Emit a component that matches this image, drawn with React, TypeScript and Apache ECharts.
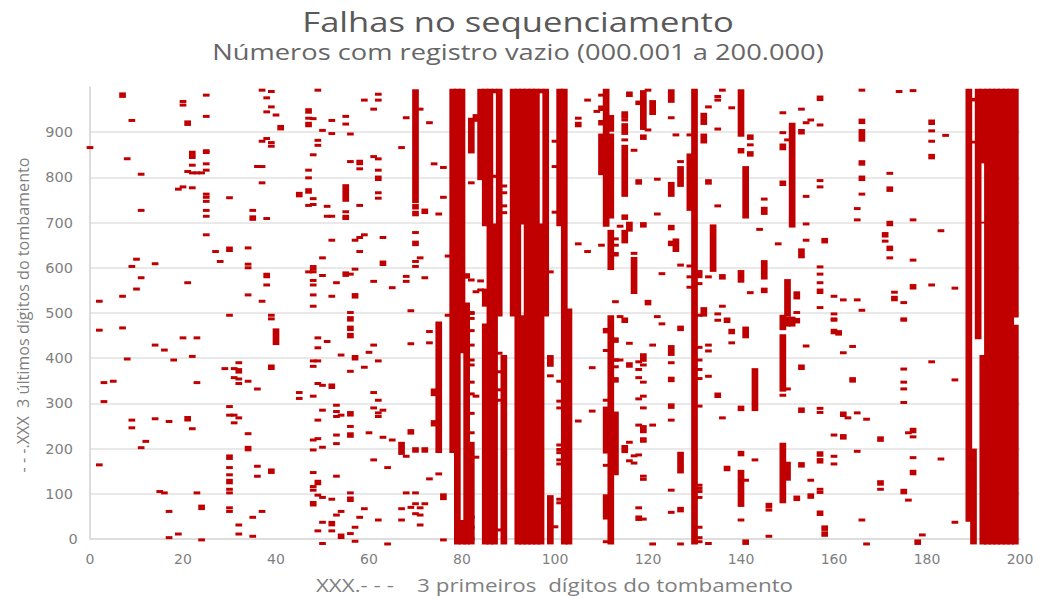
import React, { useEffect, useRef } from "react";
import * as echarts from "echarts";

const titleText = "Falhas no sequenciamento";
const subtitleText = "Números com registro vazio (000.001 a 200.000)";
const xAxisName = "XXX.- - -    3 primeiros  dígitos do tombamento";
const yAxisName = "- - -.XXX  3 últimos dígitos do tombamento";

// [first three digits, [last three digits of isolated empty numbers]]
const dashes: [number, number[]][] = [
  [0,[866]],[2,[526,462,164]],[3,[346,304]],[5,[349]],[7,[537,467]],[8,[841,398]],[9,[926,603,263,246]],
  [10,[619,553]],[11,[807,727,578,202]],[12,[216]],[14,[609,429,266]],[15,[105]],[16,[418,102]],[17,[260,61,3]],
  [18,[396]],[19,[774,11]],[20,[968,960,779,445]],[21,[567,813]],[22,[777,844,827,404,244,810]],[23,[810,445,346,102]],
  [24,[810,-2]],[25,[982,935,859,855,830,816,763,756,747,727,714,673]],[27,[636]],[28,[614]],[29,[377]],
  [30,[755,495,293,274,158,142,110,102,69,61]],[31,[377,357,274,257]],[32,[390,354,344,268,31,11]],
  [34,[644,608,600,540,349,233]],[35,[727,48,6]],[36,[824,332,161,139]],[37,[993,880,788,526,824,61]],
  [38,[976,945,886,709,562]],[39,[990,956,877,869,495,487]],[40,[938]],[45,[324,311]],[47,[931,816,799,591,738]],
  [48,[930,850,753,740,591,572,562,540,515,394,382,316,219,197,147,116,108]],[49,[993,882,871,445,423,394,344,263,222,97,18]],
  [50,[904,622,583,340,285,203,92,37,-10]],[51,[736,714,437]],[52,[926,897,714,661,537,88,18]],[53,[567,296,282,271,230,211,139,53]],
  [54,[407,274,61]],[55,[935,918,724,714,709]],[56,[896,835,586,501,371,249,102,12]],[57,[661,597,26,-5]],
  [58,[819,738,667,636,48]],[59,[971,673,380,67]],[60,[413,235]],[61,[951,846,570,429,324,290,175]],
  [62,[984,971,841,816,766,754,394,307,279,271,42]],[63,[667,285,225]],[64,[158,-11]],[65,[556,219]],[67,[866,67,42]],
  [68,[932,581,570,183,102]],[69,[505,432,70]],[70,[678,614,603,102,78,56]],[71,[951,622,69,53,31]],[72,[578,78]],
  [73,[921,459,434,133]],[74,[830]],[75,[719,144]],[76,[822,756,-2]],[77,[626,495]],
  [82,[788,573,501,461,429,396,385,347,321,278,235,48,26,0,499,488]],[83,[316,181,547]],[84,[571,551]],
  [88,[411,370,330,307,20]],[89,[781,766,737,722]],[99,[591,361]],[100,[880,824,723,27]],
  [101,[349,305,290,208,198,191,175,166,88,80]],[105,[931,653,261]],[107,[971,636]],[108,[379,283]],[109,[946]],
  [110,[982,650]],[111,[417,307,163,-6]],[113,[664,650,525,381]],[114,[692,492,396]],[115,[943,938,933,927,883]],
  [116,[433,214,173]],[117,[860,632,184,168]],[118,[392,375,357,310,252,186,69]],[119,[385,347,316,290,139,132,44]],
  [120,[993,905]],[121,[429,252,-11]],[122,[796,719,492]],[123,[587,476]],[125,[932,390,263,108,59]],[126,[894]],
  [127,[835,606,-11]],[129,[894,604,580,557]],[131,[565,495,424,396,375,355,294,119,112,105,92,26,3,-6]],
  [133,[956,580,429,416,360,-10]],[135,[979,971,907,737,498,484]],[136,[993,515,268]],[138,[954,434]],[140,[42]],
  [141,[130]],[142,[872,545]],[143,[175]],[144,[685]],[145,[752]],[146,[64,6]],[148,[653]],[149,[943,899,318]],
  [150,[883,332]],[152,[501]],[153,[951]],[154,[921,758,697,661,427]],[155,[927,130]],
  [157,[916,793,779,602,586,567,512,289,280,110,103]],[160,[537,498,487,484,230,183,166]],[162,[529,412]],[163,[268]],
  [164,[426]],[165,[731,706,529,279,194]],[166,[993,763,506,42]],[167,[265,-11]],[170,[110]],[171,[659]],[172,[622,809]],
  [173,[546]],[174,[990]],[175,[523,487,484,376,347,332,302]],[176,[235,86]],[177,[992,706,617,226,180]],[179,[9]],
  [181,[903,880,562,392]],[183,[682,177]],[184,[893]],[186,[555,352,37]],
];

// [first three digits, centre of a short cluster of empty numbers]
const blocks: [number, number][] = [
  [7,982],[21,920],[21,266],[22,853],[24,70],[30,641],[30,181],[30,127],[32,372],[34,200],[35,710],[38,583],[39,380],[39,150],
  [41,910],[45,762],[47,947],[47,917],[47,770],[48,600],[48,78],[49,125],[52,338],[52,34],[54,6],[55,586],[56,487],[56,466],
  [56,450],[56,277],[56,230],[56,88],[57,401],[57,538],[58,833],[62,798],[63,610],[69,237],[70,735],[70,720],[70,654],[70,197],
  [72,725],[72,197],[105,917],[110,953],[110,921],[111,461],[113,440],[113,352],[115,712],[115,484],[116,984],[116,385],
  [118,790],[118,46],[119,889],[119,695],[119,219],[120,523],[125,689],[125,654],[125,353],[125,294],[127,466],[127,65],
  [133,790],[135,318],[136,580],[137,484],[137,156],[138,459],[140,859],[140,289],[140,189],[141,-7],[142,889],[142,852],
  [145,550],[146,74],[149,787],[152,483],[152,90],[153,901],[153,380],[153,285],[153,164],[155,95],[157,975],[157,548],
  [157,188],[157,173],[157,57],[158,660],[158,24],[158,11],[160,459],[161,456],[162,276],[162,226],[164,352],[166,924],
  [166,832],[166,798],[170,221],[170,124],[171,673],[172,774],[172,698],[172,643],[173,532],[175,105],[177,558],[177,240],
  [177,147],[178,-7],[181,922],[181,846],
];

// [first three digits, lowest, highest] of long runs of empty numbers
const runs: [number, number, number][] = [
  [40,429,466],[55,746,785],[67,186,215],[70,743,995],[74,316,333],[74,249,263],[75,190,481],[76,86,101],
  [78,190,996],[79,-12,996],[80,411,996],[80,-12,42],[81,-12,523],[81,576,588],[82,-12,215],[82,853,932],[83,923,940],
  [84,794,996],[85,692,996],[85,514,554],[85,-12,477],[86,-12,996],[87,986,996],[87,799,806],[87,-12,698],[88,492,996],[89,-12,407],
  [91,492,996],[92,-12,996],[93,696,996],[93,-12,495],[94,-12,996],[95,-12,996],[96,-12,996],[97,986,996],[97,-12,698],[98,492,996],
  [99,381,407],[99,-12,97],[101,692,996],[102,-12,996],[103,-12,510],
  [110,805,897],[111,691,996],[112,901,938],[112,709,897],[112,595,684],[113,625,635],[112,-12,495],[113,141,282],[111,189,293],[111,43,99],
  [113,392,400],[115,894,920],[115,757,872],[115,190,208],[116,680,702],[115,654,684],[117,542,624],[118,960,970],[119,905,993],
  [119,392,411],[119,234,252],[121,938,971],[125,965,995],[125,757,790],[125,405,429],[127,779,825],[127,145,193],[126,635,665],
  [129,726,853],[130,-12,996],[131,577,595],[132,492,513],[132,916,943],[132,875,897],[134,591,696],
  [140,890,995],[140,567,595],[140,71,153],[141,709,825],[141,444,470],[143,283,378],[145,717,735],[145,574,617],
  [149,860,875],[149,326,453],[149,462,496],[150,470,492],[151,470,492],[150,492,575],[149,79,213],[150,129,171],
  [151,689,921],[152,530,548],[153,621,643],[166,879,907],
  [189,38,996],[190,-12,200],[190,968,976],[190,875,881],[191,442,996],[192,831,996],[192,-12,407],[192,698,702],
  [193,-12,996],[194,-12,996],[195,-12,996],[196,-12,996],[197,-12,996],[198,-12,996],[199,490,996],[199,-12,474],
];

const dashData = dashes.flatMap(([x, ys]) => ys.map((y) => [x, y]));

const MARK = "#C00000";
const GREY = "#7F7F7F";
const FONT = "'Open Sans', sans-serif";
const TICK_FONT = "'DejaVu Sans', sans-serif";

function rectItem(params: any, api: any, hPx: number | null) {
  const x = api.value(0);
  const w = api.size([1.44, 0])[0];
  if (hPx !== null) {
    const c = api.coord([x, api.value(1)]);
    return { type: "rect", shape: { x: c[0] - w / 2, y: c[1] - hPx / 2, width: w, height: hPx }, style: { fill: MARK } };
  }
  const a = api.coord([x, api.value(2)]);
  const b = api.coord([x, api.value(1)]);
  return { type: "rect", shape: { x: a[0] - w / 2, y: a[1], width: w, height: b[1] - a[1] }, style: { fill: MARK } };
}

function label(text: string, x: number, y: number, size: number, scaleX: number, color: string, rotation = 0) {
  return {
    type: "text", x, y, scaleX, rotation, silent: true,
    style: { text, font: `${size}px ${FONT}`, fill: color, textAlign: "center", textVerticalAlign: "middle" },
  };
}

export default function App() {
  const ref = useRef<HTMLDivElement>(null);
  useEffect(() => {
    document.body.style.margin = "0";
    const chart = echarts.init(ref.current!, null, { renderer: "svg" });
    chart.setOption({
      animation: false,
      backgroundColor: "#ffffff",
      graphic: [
        label(titleText, 518, 21, 28, 1.234, "#595959"),
        label(subtitleText, 518, 52, 22, 1.24, "#666666"),
        label(xAxisName, 554.5, 585, 18, 1.245, GREY),
        label(yAxisName, 22, 315, 17, 0.95, GREY, Math.PI / 2),
      ],
      grid: { left: 90, right: 19, top: 87, bottom: 57 },
      xAxis: {
        type: "value", min: 0, max: 200, interval: 20,
        axisLine: { show: true, lineStyle: { color: "#D9D9D9", width: 1.5 } },
        axisTick: { show: false },
        axisLabel: { fontFamily: TICK_FONT, fontSize: 14, color: GREY, margin: 13, alignMinLabel: "center", alignMaxLabel: "center" },
        splitLine: { show: false },
      },
      yAxis: {
        type: "value", min: 0, max: 1000, interval: 100,
        axisLine: { show: true, lineStyle: { color: "#D0D0D0", width: 1.5 } },
        axisTick: { show: false },
        axisLabel: { fontFamily: TICK_FONT, fontSize: 14.5, color: GREY, margin: 17, showMaxLabel: false, alignMinLabel: "center", alignMaxLabel: "center" },
        splitLine: { show: true, showMaxLine: false, lineStyle: { color: "#E2E2E2", width: 1.5 } },
      },
      series: [
        { type: "custom", clip: false, silent: true, data: dashData, encode: { x: 0, y: 1 }, renderItem: (p: any, a: any) => rectItem(p, a, 3) },
        { type: "custom", clip: false, silent: true, data: blocks, encode: { x: 0, y: 1 }, renderItem: (p: any, a: any) => rectItem(p, a, 5.5) },
        { type: "custom", clip: false, silent: true, data: runs, encode: { x: 0, y: [1, 2] }, renderItem: (p: any, a: any) => rectItem(p, a, null) },
      ],
    });
    return () => chart.dispose();
  }, []);
  return <div ref={ref} style={{ width: 1039, height: 596 }} />;
}
